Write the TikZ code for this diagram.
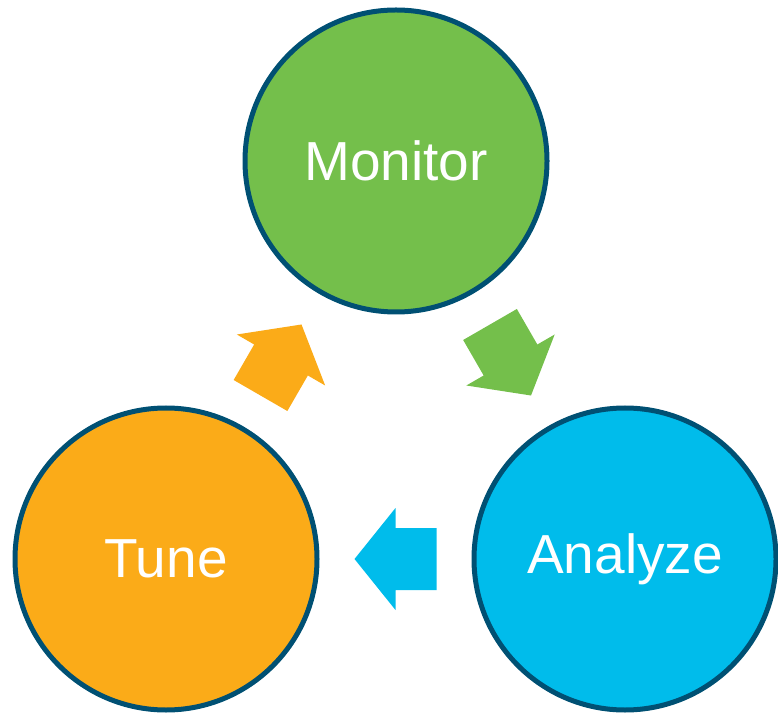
\documentclass[tikz,border=0pt]{standalone}
\usepackage{fontspec}
\setmainfont{Liberation Sans}
\usepackage{xcolor}
\usetikzlibrary{calc}

\definecolor{rim}{HTML}{005073}
\definecolor{leaf}{HTML}{74BF4B}
\definecolor{sky}{HTML}{00BCEB}
\definecolor{amber}{HTML}{FBAB18}

\tikzset{
  stage/.style={circle, draw=rim, line width=5pt, minimum size=302pt,
    text=white, font=\fontsize{55}{60}\selectfont}
}

\begin{document}
\begin{tikzpicture}[x=1pt,y=1pt]

\useasboundingbox (0,0) rectangle (778,715);

\def\blockarrow{(-41,-31) -- (0,-31) -- (0,-51) -- (41,0) -- (0,51) -- (0,31) -- (-41,31) -- cycle}

% the three stages
\node[stage, fill=leaf]  (monitor) at (396,554) {Monitor};
\node[stage, fill=sky]   (analyze) at (625,156) {Analyze};
\node[stage, fill=amber] (tune)    at (166,156) {Tune};

% arrows half way between stages
\coordinate (ma) at ($(monitor)!0.5!(analyze)$);
\coordinate (at) at ($(analyze)!0.5!(tune)$);
\coordinate (tm) at ($(tune)!0.5!(monitor)$);

\fill[leaf,  shift={(ma)}, rotate=-60] \blockarrow;
\fill[sky,   shift={(at)}, rotate=180] \blockarrow;
\fill[amber, shift={(tm)}, rotate=60]  \blockarrow;

\end{tikzpicture}
\end{document}
